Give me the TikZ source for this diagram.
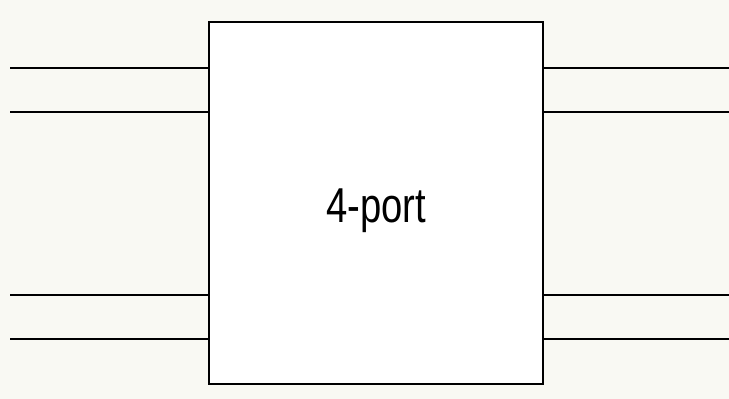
\documentclass[tikz,border=0pt]{standalone}
\usepackage{fontspec}
\newfontfamily\narrowsans[FakeStretch=0.78]{Liberation Sans}
\definecolor{paper}{HTML}{F9F9F3}
\begin{document}
\begin{tikzpicture}[x=1pt,y=-1pt,
  wire/.style={line width=1.5pt,black},
  block/.style={draw=black,line width=1.5pt,fill=white}]
\fill[paper] (0,0) rectangle (729,399);
\useasboundingbox (0,0) rectangle (729,399);
% the four-port block
\draw[block] (209,22) rectangle (543,384);
\node[font=\narrowsans\fontsize{49}{55}\selectfont] (label) at (376,210.5) {4-port};
% port leads on both sides
\coordinate (bl) at (209,0);
\coordinate (br) at (543,0);
\foreach \y/\n in {68/a,112/b,295/c,339/d}{
  \coordinate (L\n) at (10,\y);
  \coordinate (R\n) at (729,\y);
  \draw[wire] (L\n) -- (bl |- L\n);
  \draw[wire] (br |- R\n) -- (R\n);
}
\end{tikzpicture}
\end{document}
